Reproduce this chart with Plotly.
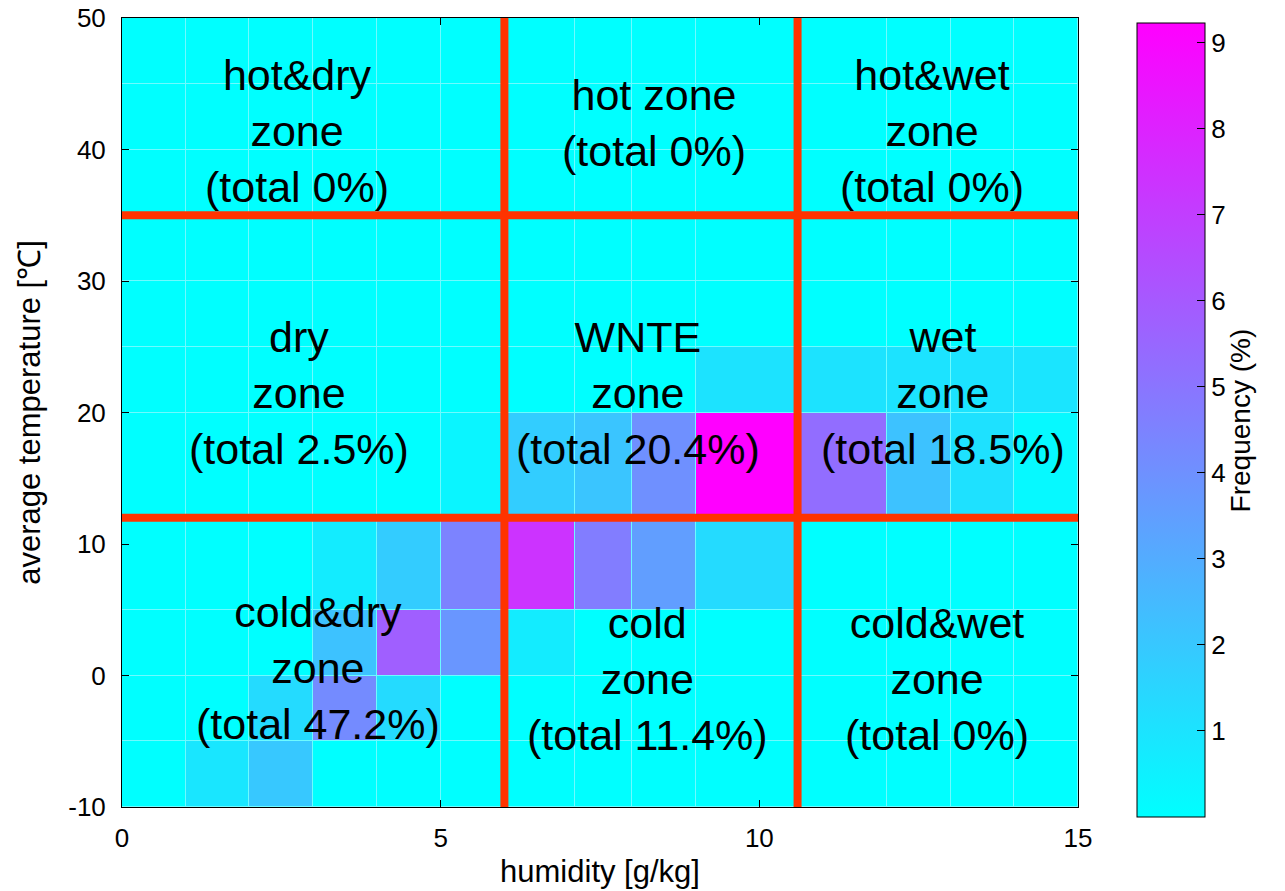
import plotly.graph_objects as go

# ---- data ----
humidity_edges = [0, 1, 2, 3, 4, 5, 6, 7.1, 8, 9, 10.6, 12, 13, 14, 15]
temperature_edges = [-10, -5, 0, 5, 12, 20, 25, 30, 35, 40, 45, 50]

# frequency (%) per cell, rows bottom (-10..-5) to top (45..50)
freq_r0 = [0, 0.9, 2.0, 0, 0, 0, 0, 0, 0, 0, 0, 0, 0, 0]          # -10..-5
freq_r1 = [0, 0, 1.3, 4.2, 1.3, 0, 0, 0, 0, 0, 0, 0, 0, 0]        # -5..0
freq_r2 = [0, 0, 0, 2.2, 5.8, 3.8, 0.7, 0, 0, 0, 0, 0, 0, 0]      # 0..5
freq_r3 = [0, 0, 0, 0.7, 1.85, 4.5, 7.4, 4.7, 3.5, 1.3, 0, 0, 0, 0]  # 5..12
freq_r4 = [0, 0, 0, 0, 0, 0.35, 1.8, 2.1, 4.0, 9.23, 5.3, 2.2, 1.1, 0.2]  # 12..20
freq_r5 = [0, 0, 0, 0, 0, 0, 0, 0, 0, 1.0, 1.0, 1.0, 1.0, 0.95]  # 20..25
freq_r6 = [0] * 14  # 25..30
freq_r7 = [0] * 14  # 30..35
freq_r8 = [0] * 14  # 35..40
freq_r9 = [0] * 14  # 40..45
freq_r10 = [0] * 14  # 45..50
freq = [freq_r0, freq_r1, freq_r2, freq_r3, freq_r4, freq_r5,
        freq_r6, freq_r7, freq_r8, freq_r9, freq_r10]

humidity_bounds = [6, 10.6]
temperature_bounds = [12, 35]

zone_labels = [
    "hot&dry<br>zone<br>(total 0%)",
    "hot zone<br>(total 0%)",
    "hot&wet<br>zone<br>(total 0%)",
    "dry<br>zone<br>(total 2.5%)",
    "WNTE<br>zone<br>(total 20.4%)",
    "wet<br>zone<br>(total 18.5%)",
    "cold&dry<br>zone<br>(total 47.2%)",
    "cold<br>zone<br>(total 11.4%)",
    "cold&wet<br>zone<br>(total 0%)",
]
zone_label_x = [2.75, 8.35, 12.71, 2.77, 8.1, 12.88, 3.08, 8.24, 12.79]
zone_label_y = [41.4, 42.0, 41.4, 21.45, 21.45, 21.45, 0.6, -0.3, -0.3]

x_ticks = [0, 5, 10, 15]
y_ticks = [-10, 0, 10, 20, 30, 40, 50]
y_tick_text = ["-10", "0", "10", "20", "30", "40", "50"]
colorbar_ticks = [1, 2, 3, 4, 5, 6, 7, 8, 9]

FONT = "Liberation Sans, Arial, Helvetica, sans-serif"
RED = "rgb(255,51,0)"
TICK_SIZE = 26
TITLE_SIZE = 31

fig = go.Figure()
fig.add_trace(go.Heatmap(
    x=humidity_edges, y=temperature_edges, z=freq,
    zmin=0, zmax=9.23,
    colorscale=[[0, "rgb(0,255,255)"], [1, "rgb(255,0,255)"]],
    xgap=1, ygap=1,
    hoverongaps=False,
    colorbar=dict(
        thickness=68, thicknessmode="pixels",
        len=794, lenmode="pixels",
        x=1.0617, xanchor="left", xpad=0,
        y=0.4905, yanchor="middle", ypad=0,
        outlinewidth=1, outlinecolor="black",
        tickvals=colorbar_ticks, ticks="inside", ticklen=8,
        tickcolor="black",
        tickfont=dict(family=FONT, size=TICK_SIZE, color="black"),
    ),
))

for hx in humidity_bounds:
    fig.add_shape(type="line", xref="x", yref="y", x0=hx, x1=hx,
                  y0=temperature_edges[0], y1=temperature_edges[-1],
                  line=dict(color=RED, width=8), layer="above")
for ty in temperature_bounds:
    fig.add_shape(type="line", xref="x", yref="y", y0=ty, y1=ty,
                  x0=humidity_edges[0], x1=humidity_edges[-1],
                  line=dict(color=RED, width=8), layer="above")

for txt, zx, zy in zip(zone_labels, zone_label_x, zone_label_y):
    fig.add_annotation(x=zx, y=zy, xref="x", yref="y", text=txt,
                       showarrow=False, xanchor="center", yanchor="middle",
                       font=dict(family=FONT, size=43, color="black"))

fig.add_annotation(x=(1240 - 122) / 956, y=0.49, xref="paper", yref="paper",
                   text="Frequency (%)", textangle=-90, showarrow=False,
                   xanchor="center", yanchor="middle",
                   font=dict(family=FONT, size=28, color="black"))

axis_common = dict(
    showgrid=False, zeroline=False, showline=True, linecolor="black",
    linewidth=1, mirror="ticks", ticks="inside", ticklen=7,
    tickcolor="black", automargin=False,
    tickfont=dict(family=FONT, size=TICK_SIZE, color="black"),
)
fig.update_xaxes(range=[0, 15], tickvals=x_ticks,
                 title=dict(text="humidity [g/kg]",
                            font=dict(family=FONT, size=TITLE_SIZE, color="black"),
                            standoff=8),
                 ticklabelstandoff=8, **axis_common)
fig.update_yaxes(range=[-10, 50], tickvals=y_ticks, ticktext=y_tick_text,
                 title=dict(text="average temperature [℃]",
                            font=dict(family=FONT, size=TITLE_SIZE, color="black"),
                            standoff=18),
                 ticklabelstandoff=10, **axis_common)

fig.update_layout(
    width=1285, height=891,
    margin=dict(l=122, r=207, t=18, b=84, autoexpand=False),
    paper_bgcolor="white", plot_bgcolor="rgb(110,250,255)",
    font=dict(family=FONT, color="black"),
    showlegend=False,
)

fig.write_html("out.html")
